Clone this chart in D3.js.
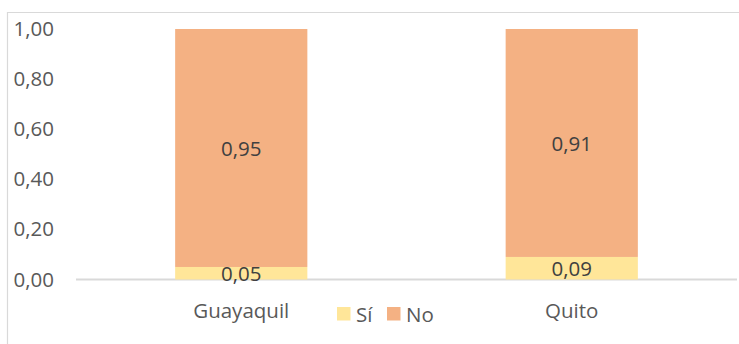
<!DOCTYPE html>
<html>
<head>
<meta charset="utf-8">
<script src="https://cdn.jsdelivr.net/npm/d3@7"></script>
<style>
  html, body { margin: 0; padding: 0; background: #fff; }
  svg { display: block; }
  text { font-family: "Open Sans", "Noto Sans", sans-serif; fill: #404040; }
</style>
</head>
<body>
<svg id="chart" width="739" height="344"></svg>
<script>
// Proportions by city
const cities = ["Guayaquil", "Quito"];
const si = [0.05, 0.09];
const no = [0.95, 0.91];
const yTicks = [0, 0.2, 0.4, 0.6, 0.8, 1.0];
const seriesNames = ["Sí", "No"];
const seriesColors = ["#FFE699", "#F4B183"];

const svg = d3.select("#chart");
const W = 739, H = 344;
const plot = { left: 76, right: 737, top: 29, bottom: 279.5 };
const fontSize = "20.5px";

const fmt = v => d3.format(".2f")(v).replace(".", ",");

// chart area frame
svg.append("path")
  .attr("d", `M7.5,${H} V12.5 H${W}`)
  .attr("fill", "none")
  .attr("stroke", "#d9d9d9")
  .attr("stroke-width", 1.2);

const x = d3.scaleBand().domain(cities).range([plot.left, plot.right]).paddingInner(0.6).paddingOuter(0.3);
const y = d3.scaleLinear().domain([0, 1]).range([plot.bottom, plot.top]);

// stacked data
const rows = cities.map((c, i) => ({ city: c, "Sí": si[i], "No": no[i] }));
const stack = d3.stack().keys(seriesNames)(rows);
const color = d3.scaleOrdinal().domain(seriesNames).range(seriesColors);

// category axis
const xAxis = svg.append("g")
  .attr("transform", `translate(0,${plot.bottom})`)
  .call(d3.axisBottom(x).tickSize(0).tickPadding(0));
xAxis.select(".domain").remove();
xAxis.append("line")
  .attr("x1", plot.left).attr("x2", plot.right)
  .attr("stroke", "#d9d9d9").attr("stroke-width", 1.8);
xAxis.selectAll(".tick text")
  .attr("y", 31).attr("dy", "0.36em")
  .style("font-size", fontSize)
  .style("fill", "#595959")
  .style("font-family", "'Open Sans', sans-serif");

const layers = svg.append("g").selectAll("g").data(stack).join("g")
  .attr("fill", d => color(d.key));

layers.selectAll("rect").data(d => d).join("rect")
  .attr("x", d => x(d.data.city))
  .attr("width", x.bandwidth())
  .attr("y", d => y(d[1]))
  .attr("height", d => y(d[0]) - y(d[1]));

// value labels centered in each segment
layers.selectAll("text").data(d => d.map(p => ({ p, key: d.key }))).join("text")
  .attr("x", d => x(d.p.data.city) + x.bandwidth() / 2)
  .attr("y", d => y((d.p[0] + d.p[1]) / 2))
  .attr("dy", "0.38em")
  .attr("text-anchor", "middle")
  .style("font-size", fontSize)
  .text(d => fmt(d.p.data[d.key]));

// value axis labels
const yAxis = svg.append("g")
  .attr("transform", "translate(54,0)")
  .call(d3.axisLeft(y).tickValues(yTicks).tickSize(0).tickPadding(0).tickFormat(fmt));
yAxis.select(".domain").remove();
yAxis.selectAll(".tick text")
  .style("font-size", fontSize)
  .style("fill", "#595959")
  .style("font-family", "'Open Sans', sans-serif");

// legend
const legendItems = [
  { name: "Sí", sx: 337, tx: 356 },
  { name: "No", sx: 387, tx: 406 }
];
const legend = svg.append("g");
legend.selectAll("rect").data(legendItems).join("rect")
  .attr("x", d => d.sx).attr("y", 307)
  .attr("width", 13.5).attr("height", 13.5)
  .attr("fill", d => color(d.name));
legend.selectAll("text").data(legendItems).join("text")
  .attr("x", d => d.tx).attr("y", 314)
  .attr("dy", "0.38em")
  .style("font-size", fontSize)
  .style("fill", "#595959")
  .text(d => d.name);
</script>
</body>
</html>
